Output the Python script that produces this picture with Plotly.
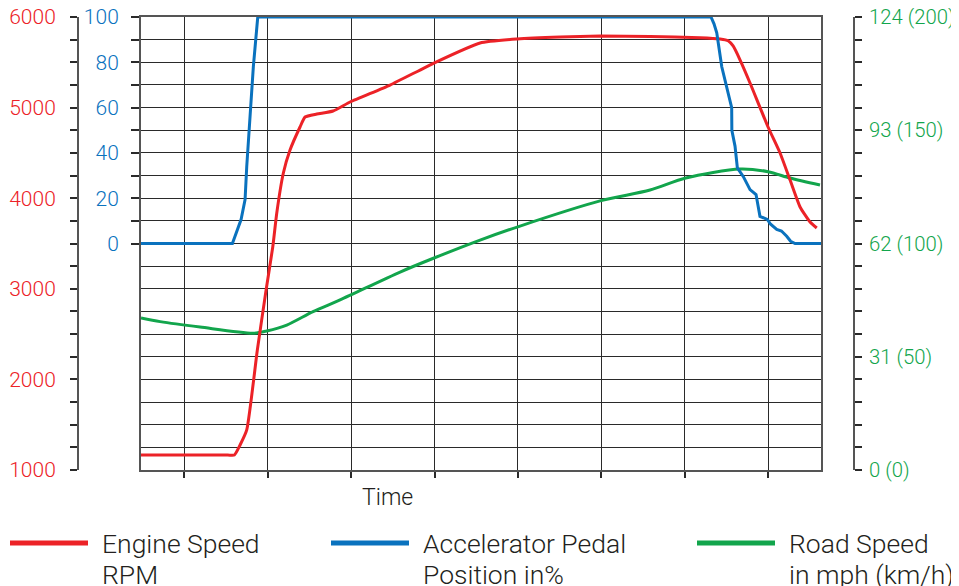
import plotly.graph_objects as go

# time axis: one unit per vertical grid line
pedal_t = [-0.52, 0.576, 0.68, 0.728, 0.748, 0.788, 0.827, 0.88, 6.315, 6.351, 6.384, 6.444,
           6.523, 6.563, 6.565, 6.603, 6.631, 6.703, 6.783, 6.855, 6.902, 6.99, 7.03, 7.103,
           7.16, 7.223, 7.27, 7.323, 7.634]
pedal_pct = [0, 0, 10.6, 19.4, 34, 56, 78, 100, 100, 97, 93, 78,
             66.5, 60, 50, 43, 33.4, 29.5, 23.8, 21.6, 12, 10.6, 8.5, 6.2,
             5.5, 3.2, 1.0, 0, 0]

rpm_t = [-0.52, 0.52, 0.60, 0.668, 0.748, 0.875, 0.98, 1.06, 1.108, 1.187, 1.267, 1.387,
         1.447, 1.588, 1.783, 1.987, 2.466, 2.994, 3.546, 3.99, 4.505, 4.985, 5.584, 6.184,
         6.424, 6.52, 6.58, 6.664, 6.783, 6.999, 7.143, 7.263, 7.383, 7.503, 7.583]
rpm = [1165, 1165, 1165, 1276, 1442, 2325, 2987, 3461, 3837, 4278, 4532, 4786,
       4896, 4929, 4962, 5062, 5249, 5492, 5713, 5757, 5779, 5790, 5785, 5772,
       5757, 5738, 5680, 5525, 5272, 4786, 4499, 4201, 3903, 3737, 3671]

road_t = [-0.52, -0.291, 0.188, 0.827, 0.988, 1.228, 1.543, 1.867, 2.587, 2.994, 3.546,
          4.025, 4.985, 5.584, 6.012, 6.663, 6.999, 7.263, 7.622]
road_kmh = [67.1, 65.5, 63.1, 60.4, 61.4, 64.0, 69.9, 75.1, 87.4, 93.6, 101.5,
            107.7, 118.8, 123.6, 128.9, 132.9, 131.7, 128.9, 125.8]

rpm_ticks = list(range(1000, 6001, 250))
rpm_labels = [str(v) if v % 1000 == 0 else '' for v in rpm_ticks]
pedal_ticks = list(range(0, 101, 10))
pedal_labels = [str(v) if v % 20 == 0 else '' for v in pedal_ticks]
road_ticks = list(range(0, 201, 10))
road_labels = {0: '0 (0)', 50: '31 (50)', 100: '62 (100)', 150: '93 (150)', 200: '124 (200)'}

RED = '#ec2227'
BLUE = '#0a72be'
GREEN = '#12a54c'
GRID = '#2a2a2a'
AXIS = '#555555'
TEXT = '#231f20'
FONT = 'Roboto'

W, H = 959, 586
PAGE_PAD = 8  # the page body keeps its default margin


def px(x):
    return (x - PAGE_PAD) / W


def py(y):
    return 1 - (y - PAGE_PAD) / H


fig = go.Figure()

fig.add_trace(go.Scatter(x=road_t, y=road_kmh, mode='lines', name='Road Speed',
                         line=dict(color=GREEN, width=3, shape='spline', smoothing=0.8),
                         yaxis='y'))
fig.add_trace(go.Scatter(x=rpm_t, y=rpm, mode='lines', name='Engine Speed',
                         line=dict(color=RED, width=3, shape='spline', smoothing=0.5),
                         yaxis='y2'))
fig.add_trace(go.Scatter(x=pedal_t, y=pedal_pct, mode='lines', name='Accelerator Pedal',
                         line=dict(color=BLUE, width=3), yaxis='y3'))

tick_font = dict(size=21, weight=300)

fig.update_layout(
    template='none',
    width=W, height=H,
    margin=dict(l=0, r=0, t=0, b=0, autoexpand=False),
    paper_bgcolor='white', plot_bgcolor='white',
    showlegend=False,
    font=dict(family=FONT, size=21, weight=300),
    xaxis=dict(domain=[px(141), px(821)], range=[-0.52, 7.634], tickvals=list(range(8)),
               showticklabels=False, ticks='outside', ticklen=6, tickwidth=1.5, tickcolor=GRID,
               showgrid=True, gridcolor=GRID, gridwidth=1.3, zeroline=False, automargin=False,
               showline=True, linecolor=AXIS, linewidth=2, mirror=True),
    # road speed, also carries the horizontal grid
    yaxis=dict(domain=[py(470), py(17)], range=[0, 200], anchor='free', position=px(854),
               side='right',
               tickvals=road_ticks, ticktext=[road_labels.get(v, '') for v in road_ticks],
               ticks='outside', ticklen=7, tickwidth=1.5, tickcolor=GRID,
               tickfont=dict(color=GREEN, size=20.3, weight=300), ticklabelstandoff=3,
               ticklabeloverflow='allow',
               showgrid=True, gridcolor=GRID, gridwidth=1.3, zeroline=False, automargin=False,
               showline=True, linecolor=AXIS, linewidth=2),
    yaxis2=dict(overlaying='y', range=[1000, 6000], anchor='free', position=px(78), side='left',
                tickvals=rpm_ticks, ticktext=rpm_labels,
                ticks='outside', ticklen=7, tickwidth=1.5, tickcolor=GRID,
                tickfont=dict(color=RED, **tick_font), ticklabelstandoff=10,
                ticklabeloverflow='allow',
                showgrid=False, zeroline=False, automargin=False,
                showline=True, linecolor=AXIS, linewidth=2),
    yaxis3=dict(overlaying='y', range=[-100, 100], anchor='x', side='left',
                tickvals=pedal_ticks, ticktext=pedal_labels,
                ticks='outside', ticklen=8, tickwidth=1.5, tickcolor=GRID,
                tickfont=dict(color=BLUE, **tick_font), ticklabelstandoff=8,
                ticklabeloverflow='allow',
                showgrid=False, zeroline=False, automargin=False,
                showline=True, linecolor=AXIS, linewidth=2, mirror=True),
)

fig.add_annotation(text='Time', x=px(387), y=py(497), xref='paper', yref='paper',
                   xanchor='center', yanchor='middle', showarrow=False,
                   font=dict(size=23, color=TEXT, weight=300))

# legend drawn by hand so the swatches match the long strokes of the original
legend_items = [(RED, 10, 88, 100, 'Engine Speed', 'RPM'),
                (BLUE, 331, 409, 421, 'Accelerator Pedal', 'Position in%'),
                (GREEN, 697, 775, 787, 'Road Speed', 'in mph (km/h)')]
for color, lx0, lx1, tx, line1, line2 in legend_items:
    fig.add_shape(type='line', xref='paper', yref='paper',
                  x0=px(lx0), x1=px(lx1), y0=py(543), y1=py(543),
                  line=dict(color=color, width=5))
    for text, ty in ((line1, 543), (line2, 574)):
        fig.add_annotation(text=text, x=px(tx), y=py(ty), xref='paper', yref='paper',
                           xanchor='left', yanchor='middle', showarrow=False,
                           font=dict(size=26.5, color=TEXT, weight=300))

fig.write_html("out.html")
